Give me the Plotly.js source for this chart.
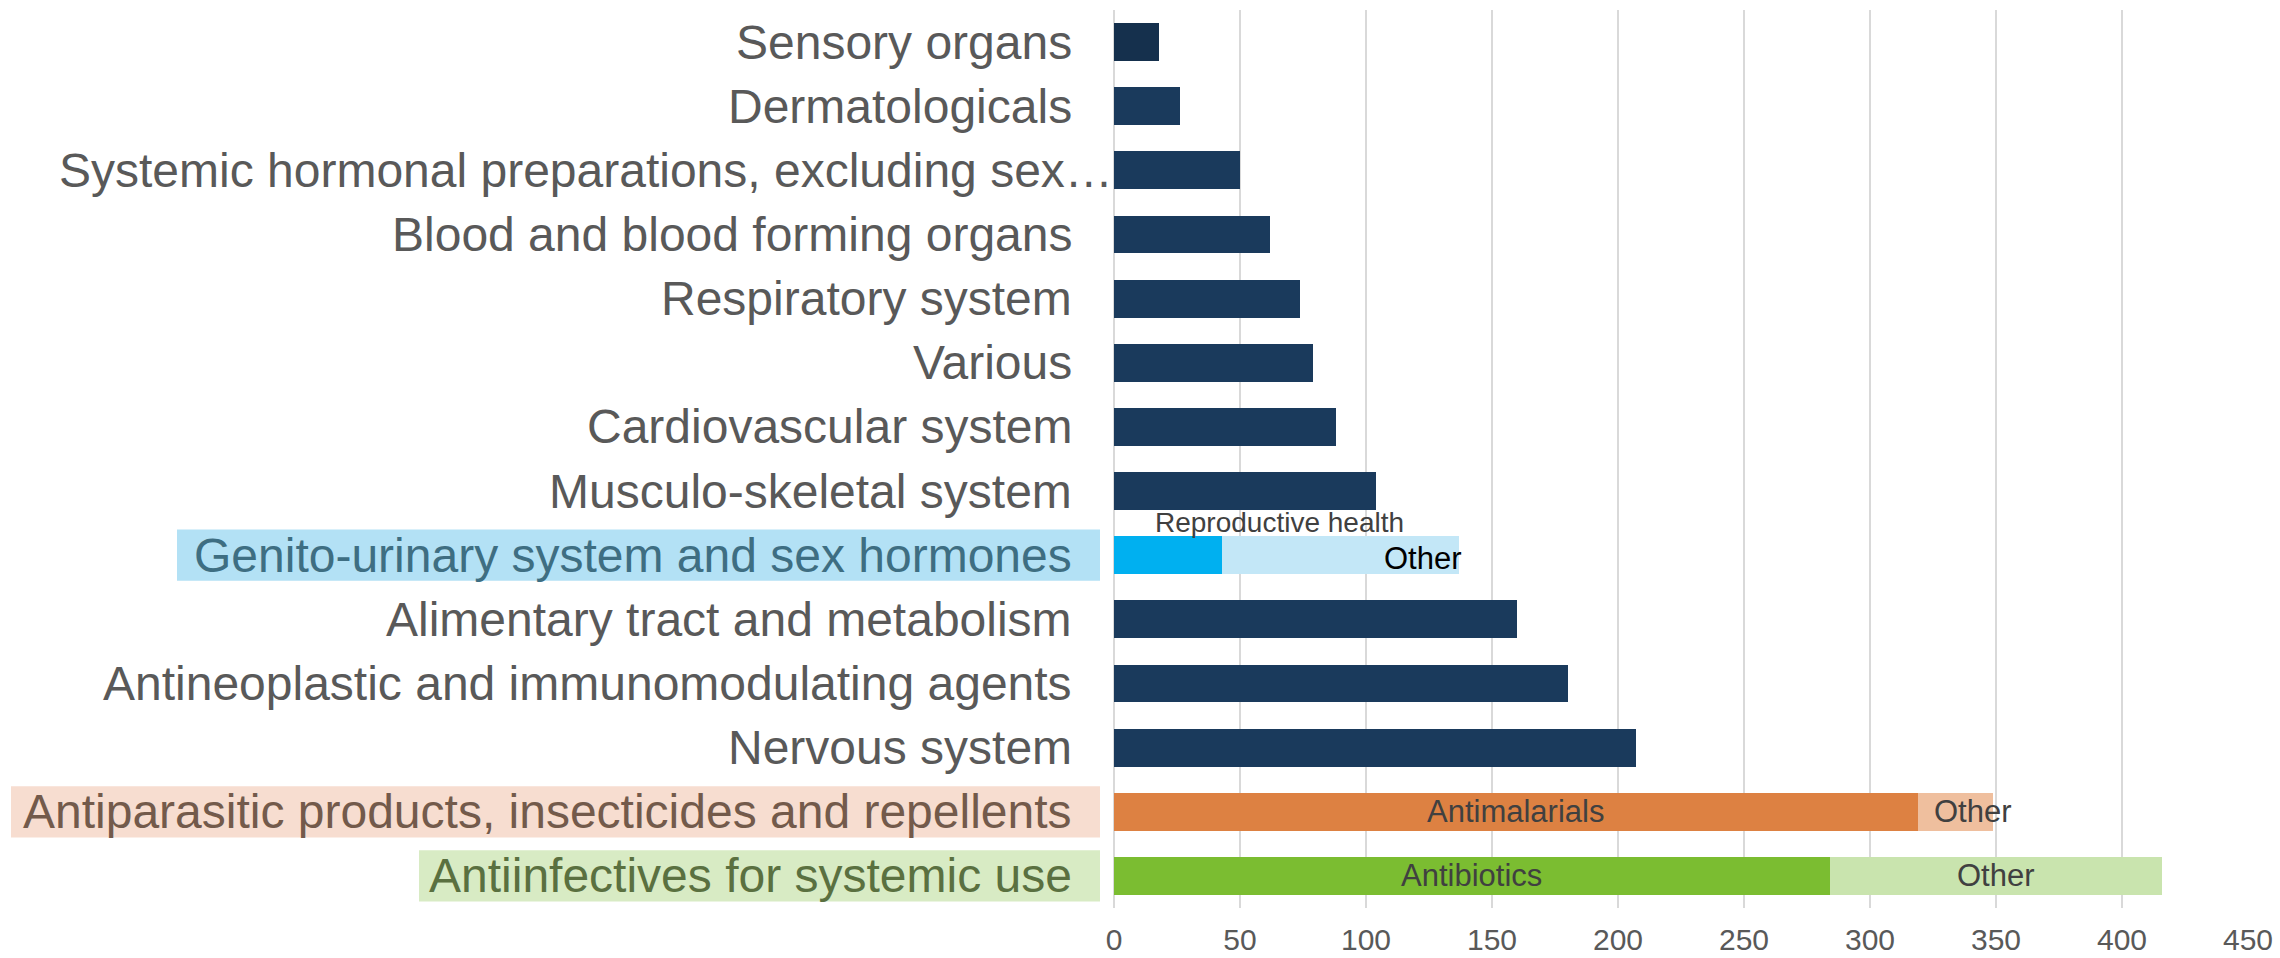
<!DOCTYPE html>
<html><head><meta charset="utf-8">
<script src="https://cdn.plot.ly/plotly-3.0.1.min.js"></script>
<style>html,body{margin:0;padding:0;background:#fff}</style>
</head><body>
<div id="chart" style="width:2280px;height:958px"></div>
<script>
// ---- data ----
const categories = [
  'Sensory organs',
  'Dermatologicals',
  'Systemic hormonal preparations, excluding sex…',
  'Blood and blood forming organs',
  'Respiratory system',
  'Various',
  'Cardiovascular system',
  'Musculo-skeletal system',
  'Genito-urinary system and sex hormones',
  'Alimentary tract and metabolism',
  'Antineoplastic and immunomodulating agents',
  'Nervous system',
  'Antiparasitic products, insecticides and repellents',
  'Antiinfectives for systemic use'
];
const singleCategories = [
  'Sensory organs','Dermatologicals','Systemic hormonal preparations, excluding sex…',
  'Blood and blood forming organs','Respiratory system','Various','Cardiovascular system',
  'Musculo-skeletal system','Alimentary tract and metabolism',
  'Antineoplastic and immunomodulating agents','Nervous system'
];
const singleValues = [18, 26, 50, 62, 74, 79, 88, 104, 160, 180, 207];
const splitCategories = [
  'Genito-urinary system and sex hormones',
  'Antiparasitic products, insecticides and repellents',
  'Antiinfectives for systemic use'
];
const splitMainLabels = ['Reproductive health', 'Antimalarials', 'Antibiotics'];
const splitMainValues = [43, 319, 284];
const splitOtherLabels = ['Other', 'Other', 'Other'];
const splitOtherValues = [94, 30, 132];
const xTickValues = [0, 50, 100, 150, 200, 250, 300, 350, 400, 450];

// ---- styles ----
const navy = '#1a3a5c';
const navyDark = '#15304d';
const mainColors = ['#00b0f0', '#dd8142', '#7bbd31'];
const otherColors = ['#c3e7f7', '#efbf9e', '#c9e4ae'];
const boxColors = ['#b3e1f5', '#f7ddd0', '#d8ebc4'];
const labelColors = ['#3e6e82', '#735a4b', '#5a7040'];
const boxLeftPx = [-937, -1103, -695];
const FONT = 'Liberation Sans, Arial, sans-serif';

const traces = [
  {
    type: 'bar', orientation: 'h', name: 'Total',
    y: singleCategories, x: singleValues,
    marker: {color: singleCategories.map((c, i) => i === 0 ? navyDark : navy)},
    hoverinfo: 'none'
  },
  {
    type: 'bar', orientation: 'h', name: 'Main',
    y: splitCategories, x: splitMainValues,
    marker: {color: mainColors},
    hoverinfo: 'none'
  },
  {
    type: 'bar', orientation: 'h', name: 'Other',
    y: splitCategories, x: splitOtherValues,
    marker: {color: otherColors},
    hoverinfo: 'none'
  }
];

const annotations = [];
const shapes = [];
categories.forEach((c, i) => {
  const k = splitCategories.indexOf(c);
  annotations.push({
    xref: 'paper', yref: 'y', x: 0, y: i,
    xanchor: 'right', yanchor: 'middle',
    xshift: c.endsWith('…') ? 1 : -40,
    text: c, showarrow: false,
    font: {family: FONT, size: 48, color: k >= 0 ? labelColors[k] : '#595959'}
  });
  if (k >= 0) {
    shapes.push({
      type: 'rect', xref: 'paper', yref: 'y', layer: 'below',
      xsizemode: 'pixel', xanchor: 0, x0: boxLeftPx[k], x1: -14,
      y0: i - 0.4, y1: i + 0.4,
      fillcolor: boxColors[k], line: {width: 0}
    });
  }
});

// segment labels
splitCategories.forEach((c, k) => {
  const i = categories.indexOf(c);
  const m = splitMainValues[k], o = splitOtherValues[k];
  if (k === 0) {
    annotations.push({xref: 'x', yref: 'y', x: 0, y: i - 0.5, xanchor: 'left', yanchor: 'middle',
      xshift: 39, yshift: 1, text: splitMainLabels[k], showarrow: false,
      font: {family: FONT, size: 28, color: '#404040'}});
    annotations.push({xref: 'x', yref: 'y', x: m + o, y: i, xanchor: 'right', yanchor: 'middle',
      xshift: 5, yshift: -3, text: splitOtherLabels[k], showarrow: false,
      font: {family: FONT, size: 31, color: '#000000'}});
  } else {
    annotations.push({xref: 'x', yref: 'y', x: m / 2, y: i, xanchor: 'center', yanchor: 'middle',
      text: splitMainLabels[k], showarrow: false,
      font: {family: FONT, size: 31, color: '#404040'}});
    if (k === 1) {
      annotations.push({xref: 'x', yref: 'y', x: m, y: i, xanchor: 'left', yanchor: 'middle',
        xshift: 14, text: splitOtherLabels[k], showarrow: false,
        font: {family: FONT, size: 31, color: '#404040'}});
    } else {
      annotations.push({xref: 'x', yref: 'y', x: m + o / 2, y: i, xanchor: 'center', yanchor: 'middle',
        text: splitOtherLabels[k], showarrow: false,
        font: {family: FONT, size: 31, color: '#404040'}});
    }
  }
});

const layout = {
  width: 2280, height: 958,
  margin: {l: 1114, r: 32, t: 10, b: 50, pad: 0},
  paper_bgcolor: '#ffffff', plot_bgcolor: '#ffffff',
  barmode: 'stack', bargap: 0.41,
  showlegend: false,
  font: {family: FONT, color: '#595959'},
  xaxis: {
    range: [0, 450], tickvals: xTickValues, ticktext: xTickValues.map(String),
    showgrid: true, gridcolor: '#d9d9d9', gridwidth: 1.5,
    zeroline: true, zerolinecolor: '#d9d9d9', zerolinewidth: 1.5,
    showline: false, ticks: '', ticklabelstandoff: 11,
    tickfont: {family: FONT, size: 30, color: '#595959'},
    fixedrange: true
  },
  yaxis: {
    type: 'category', categoryorder: 'array', categoryarray: categories,
    range: [categories.length - 0.5, -0.5],
    showticklabels: false, showgrid: false, zeroline: false, showline: false, ticks: '',
    fixedrange: true
  },
  annotations: annotations,
  shapes: shapes
};

Plotly.newPlot('chart', traces, layout, {displayModeBar: false, staticPlot: true});
</script>
</body></html>
